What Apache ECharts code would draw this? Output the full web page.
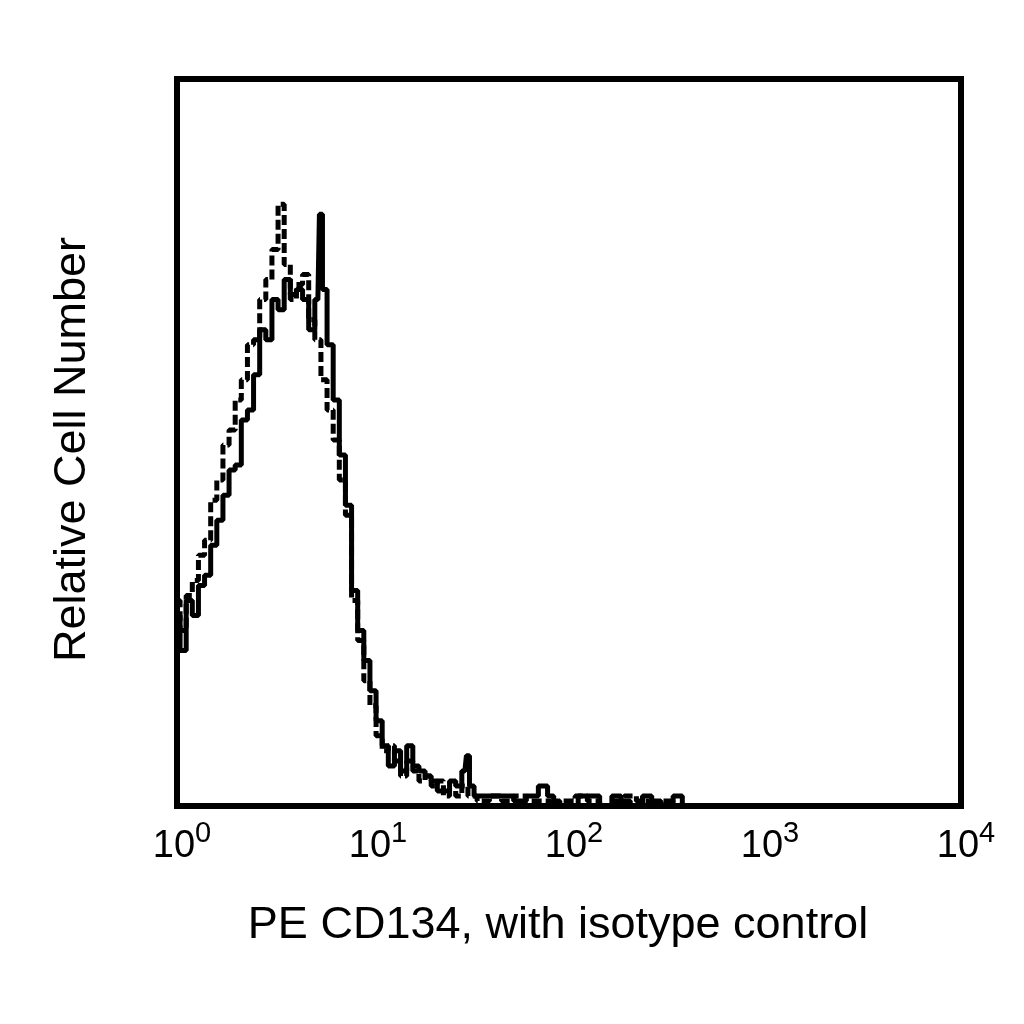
<!DOCTYPE html>
<html>
<head>
<meta charset="utf-8">
<script src="https://cdn.jsdelivr.net/npm/echarts@6/dist/echarts.min.js"></script>
<style>
html,body{margin:0;padding:0;background:#fff;}
#chart{width:1024px;height:1024px;}
</style>
</head>
<body>
<div id="chart"></div>
<script>
// Channel numbers (64 channels per decade, 4-decade log scale)
const cd134Channels = [0,2,4,6,8,10,12,14,16,18,20,22,24,26,28,30,32,34,36,38,40,42,44,46,47,48,50,52,54,56,58,60,62,64,66,68,70,72,74,76,78,80,82,84,86,88,90,92,94,95,96,98,100,104,108,112,116,120,122,124,126,130,132,136,140,144,146,150,154,156,160,164,166,170];
const cd134Counts   = [38,31,41,38,44,46,52,57,62,67,68,77,79,86,95,93,101,99,105,102,103,101,95,101,118,103,92,81,70,60,43,35,29,23,17,12,8,11,7,12,8,7,6,5,3,3,5,4,7,10,4,2,2,2,2,1,2,4,2,1,0,0,2,2,0,2,1,0,2,1,0,2,0,0];

const isoChannels = [0,2,4,6,8,10,12,14,16,18,20,22,24,26,28,30,32,34,36,38,40,42,44,46,48,50,52,54,56,58,60,62,64,66,68,70,72,74,76,78,80,82,84,86,88,90,92,94,96,100,104,108,112,116,120,124,128,132,136,140,144,148,152,156,160,164,170];
const isoCounts   = [41,35,42,45,50,53,61,65,72,75,81,85,92,93,101,105,111,120,108,101,104,106,97,93,85,79,73,65,58,41,33,25,20,14,11,12,9,6,9,7,5,6,4,5,2,3,2,4,2,1,2,1,2,1,1,0,1,2,1,0,1,2,1,0,1,0,0];

const xTickExponents = [0,1,2,3,4];
const xTickBase = '10';
const xTitle = 'PE CD134, with isotype control';
const yTitle = 'Relative Cell Number';

const CH_PER_DECADE = 64;
function toIntensity(ch){ return Math.pow(10, ch / CH_PER_DECADE); }
const cd134Data = cd134Channels.map((c,i)=>[toIntensity(c), cd134Counts[i]]);
const isoData = isoChannels.map((c,i)=>[toIntensity(c), isoCounts[i]]);

const FONT = "'Liberation Sans', Arial, sans-serif";
const xMin = Math.pow(10, xTickExponents[0]);
const xMax = Math.pow(10, xTickExponents[xTickExponents.length-1]);
const hidden = {axisLine:{show:false}, axisTick:{show:false}, splitLine:{show:false}, minorTick:{show:false}};

const chart = echarts.init(document.getElementById('chart'));
chart.setOption({
  backgroundColor: '#ffffff',
  animation: false,
  grid: {left:177, right:63, top:79, bottom:218, show:true, borderColor:'#000', borderWidth:6, backgroundColor:'transparent'},
  xAxis: [
    Object.assign({
      type:'log', logBase:10, min:xMin, max:xMax, position:'bottom',
      axisLabel:{
        margin:22, fontSize:38, lineHeight:38, fontFamily:FONT, color:'#000', padding:[0,6,0,0],
        formatter: v => xTickBase
      },
      name:xTitle, nameLocation:'middle', nameGap:97,
      nameTextStyle:{fontFamily:FONT, fontSize:45, color:'#000', padding:[0,22,0,0]}
    }, hidden),
    Object.assign({
      type:'log', logBase:10, min:xMin, max:xMax, position:'bottom',
      axisLabel:{
        margin:13, fontSize:29, lineHeight:29, fontFamily:FONT, color:'#000', align:'left', padding:[0,0,0,18],
        formatter: v => String(Math.round(Math.log10(v)))
      }
    }, hidden)
  ],
  yAxis: {
    type:'value', min:0, max:145,
    axisLine:{show:false}, axisTick:{show:false}, axisLabel:{show:false}, splitLine:{show:false},
    name:yTitle, nameLocation:'middle', nameGap:82,
    nameTextStyle:{fontFamily:FONT, fontSize:45, color:'#000', padding:[0,14,0,0]}
  },
  series: [
    {type:'line', name:'isotype control', data:isoData, step:'middle', showSymbol:false, symbol:'none',
     lineStyle:{color:'#000', width:5, type:[10,4]}},
    {type:'line', name:'PE CD134', data:cd134Data, step:'middle', showSymbol:false, symbol:'none',
     lineStyle:{color:'#000', width:5}}
  ]
});
</script>
</body>
</html>
